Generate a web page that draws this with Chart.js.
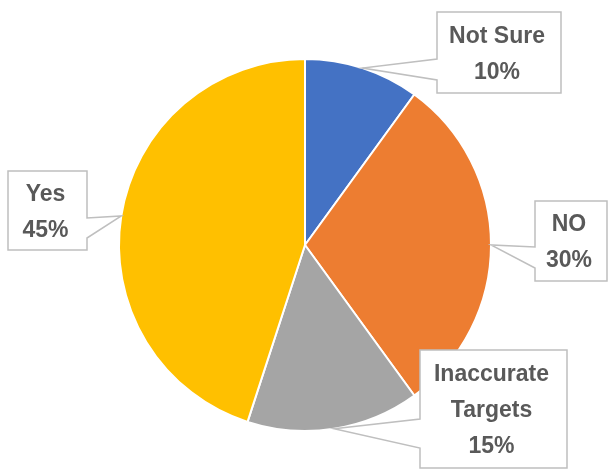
<!DOCTYPE html>
<html>
<head>
<meta charset="utf-8">
<script src="https://cdn.jsdelivr.net/npm/chart.js@4/dist/chart.umd.min.js"></script>
<style>
  html, body { margin: 0; padding: 0; background: #fff; }
  #wrap { width: 610px; height: 470px; }
</style>
</head>
<body>
<div id="wrap"><canvas id="c" width="610" height="470"></canvas></div>
<script>
// 데이터
const labels = ['Not Sure', 'NO', 'Inaccurate Targets', 'Yes'];
const values = [10, 30, 15, 45];
const colors = ['#4472C4', '#ED7D31', '#A5A5A5', '#FFC000'];

// 콜아웃 박스 배치 (레이아웃 전용): 박스 위치, 포인터가 붙는 변, 포인터 밑변 y 범위
const callouts = [
  { lines: ['Not Sure', '10%'], box: [437, 12, 561, 93], side: 'left', base: [59, 80] },
  { lines: ['NO', '30%'], box: [535, 201, 607, 281], side: 'left', base: [247, 268] },
  { lines: ['Inaccurate', 'Targets', '15%'], box: [420, 350, 567, 468], side: 'left', base: [419, 448] },
  { lines: ['Yes', '45%'], box: [8, 171, 87, 250], side: 'right', base: [218, 238] }
];

const calloutPlugin = {
  id: 'callouts',
  afterDraw(chart) {
    const ctx = chart.ctx;
    const arcs = chart.getDatasetMeta(0).data;
    arcs.forEach((arc, i) => {
      const c = callouts[i];
      const p = arc.getProps(['x', 'y', 'startAngle', 'endAngle', 'outerRadius'], true);
      const mid = (p.startAngle + p.endAngle) / 2;
      const tx = p.x + Math.cos(mid) * p.outerRadius;
      const ty = p.y + Math.sin(mid) * p.outerRadius;
      const [x0, y0, x1, y1] = c.box;
      ctx.save();
      ctx.beginPath();
      if (c.side === 'left') {
        ctx.moveTo(x0, y0);
        ctx.lineTo(x1, y0);
        ctx.lineTo(x1, y1);
        ctx.lineTo(x0, y1);
        ctx.lineTo(x0, c.base[1]);
        ctx.lineTo(tx, ty);
        ctx.lineTo(x0, c.base[0]);
      } else {
        ctx.moveTo(x0, y0);
        ctx.lineTo(x1, y0);
        ctx.lineTo(x1, c.base[0]);
        ctx.lineTo(tx, ty);
        ctx.lineTo(x1, c.base[1]);
        ctx.lineTo(x1, y1);
        ctx.lineTo(x0, y1);
      }
      ctx.closePath();
      ctx.fillStyle = '#fff';
      ctx.fill();
      ctx.strokeStyle = '#BFBFBF';
      ctx.lineWidth = 1.5;
      ctx.stroke();

      ctx.fillStyle = '#595959';
      ctx.font = 'bold 23px "Liberation Sans", Arial, sans-serif';
      ctx.textAlign = 'center';
      ctx.textBaseline = 'alphabetic';
      const cx = (x0 + x1) / 2 - 2;
      const lh = 36;
      const total = (c.lines.length - 1) * lh;
      const firstBase = (y0 + y1) / 2 - total / 2 + 8;
      c.lines.forEach((t, k) => ctx.fillText(t, cx, firstBase + k * lh));
      ctx.restore();
    });
  }
};

new Chart(document.getElementById('c'), {
  type: 'pie',
  data: {
    labels,
    datasets: [{
      data: values,
      backgroundColor: colors,
      borderColor: '#fff',
      borderWidth: 2
    }]
  },
  options: {
    responsive: false,
    animation: false,
    layout: { padding: { top: 58, bottom: 38 } },
    plugins: {
      legend: { display: false },
      tooltip: { enabled: false }
    }
  },
  plugins: [calloutPlugin]
});
</script>
</body>
</html>
